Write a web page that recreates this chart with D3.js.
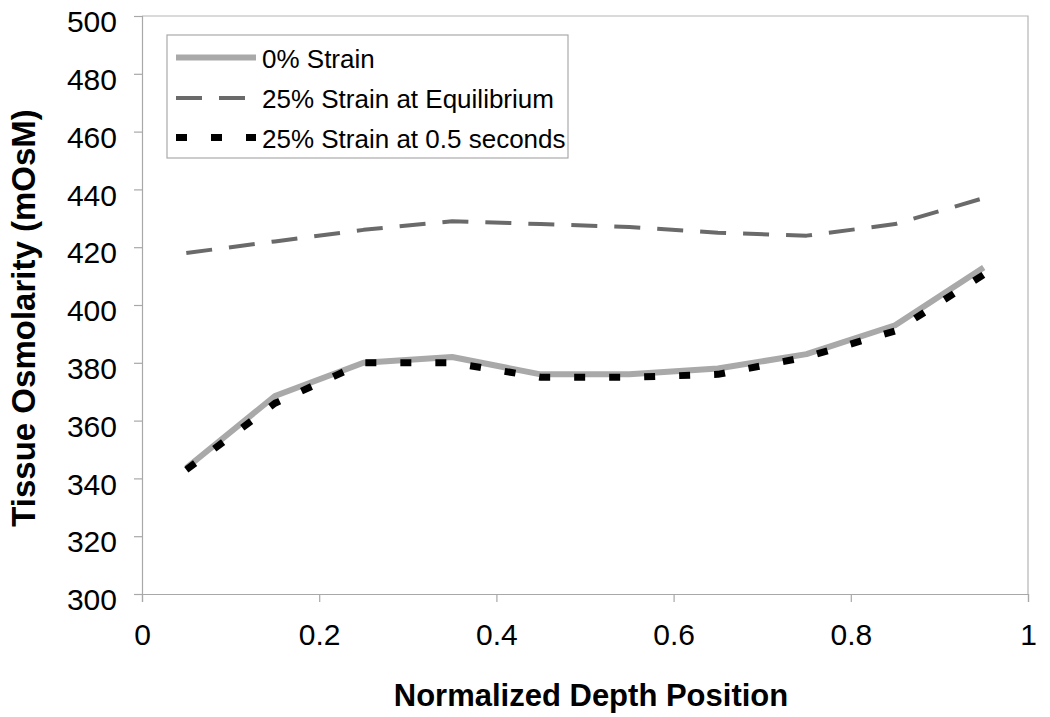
<!DOCTYPE html>
<html>
<head>
<meta charset="utf-8">
<script src="https://cdn.jsdelivr.net/npm/d3@7/dist/d3.min.js"></script>
<style>
  html, body { margin: 0; padding: 0; background: #fff; }
  svg { display: block; font-family: "Liberation Sans", Arial, sans-serif; }
</style>
</head>
<body>
<svg id="chart" width="1050" height="717"></svg>
<script>
const depth = [0.05, 0.15, 0.25, 0.35, 0.45, 0.55, 0.65, 0.75, 0.85, 0.95];
const strain0 = [343.6, 368.5, 380, 382, 376, 376, 378, 383, 393, 413];
const strain25Eq = [418, 422, 426, 429, 428, 427, 425, 424, 428, 437];
const strain25Fast = [343, 366, 380, 380, 375, 375, 376, 382, 391, 410.5];
const seriesNames = ["0% Strain", "25% Strain at Equilibrium", "25% Strain at 0.5 seconds"];
const xTicks = [0, 0.2, 0.4, 0.6, 0.8, 1];
const yTicks = [300, 320, 340, 360, 380, 400, 420, 440, 460, 480, 500];

(function () {
const svg = d3.select("#chart");
const pL = 142, pR = 1028, pT = 16, pB = 594;
const x = d3.scaleLinear().domain([0, 1]).range([pL, pR]);
const y = d3.scaleLinear().domain([300, 500]).range([pB, pT]);

// plot frame (top/right)
svg.append("path")
  .attr("d", `M${pL},${pT}H${pR}V${pB}`)
  .attr("fill", "none").attr("stroke", "#b5b5b5").attr("stroke-width", 1.2);

// y axis
const yAxis = svg.append("g").attr("transform", `translate(${pL},0)`)
  .call(d3.axisLeft(y).tickValues(yTicks).tickSize(8).tickPadding(17).tickFormat(d3.format("d")));
yAxis.select(".domain").attr("stroke", "#a8a8a8").attr("stroke-width", 1.2);
yAxis.selectAll(".tick line").attr("stroke", "#a8a8a8").attr("stroke-width", 1.2);
yAxis.selectAll(".tick text").attr("font-size", 30).attr("fill", "#000")
  .attr("font-family", "'Liberation Sans', Arial, sans-serif")
  .attr("dy", "0.52em");

// x axis
const xAxis = svg.append("g").attr("transform", `translate(0,${pB})`)
  .call(d3.axisBottom(x).tickValues(xTicks).tickSize(8).tickPadding(22).tickFormat(d => String(d)));
xAxis.select(".domain").attr("stroke", "#a8a8a8").attr("stroke-width", 1.2);
xAxis.selectAll(".tick line").attr("stroke", "#a8a8a8").attr("stroke-width", 1.2);
xAxis.selectAll(".tick text").attr("font-size", 30).attr("fill", "#000")
  .attr("font-family", "'Liberation Sans', Arial, sans-serif")
  .attr("dy", "0.71em");

// axis titles
svg.append("text")
  .attr("x", (pL + pR) / 2 + 6).attr("y", 706)
  .attr("text-anchor", "middle").attr("font-size", 31).attr("font-weight", "bold")
  .text("Normalized Depth Position");
svg.append("text")
  .attr("transform", `translate(35,318) rotate(-90)`)
  .attr("text-anchor", "middle").attr("font-size", 33).attr("font-weight", "bold")
  .text("Tissue Osmolarity (mOsM)");

const styles = [
  { color: "#a9a9a9", width: 6, dash: null },
  { color: "#6a6a6a", width: 4, dash: "26,17" },
  { color: "#000000", width: 7, dash: "11,24" }
];
const data = [strain0, strain25Eq, strain25Fast];

const line = d3.line().x((d, i) => x(depth[i])).y(d => y(d));
data.forEach((vals, k) => {
  const p = svg.append("path").datum(vals)
    .attr("d", line)
    .attr("fill", "none")
    .attr("stroke", styles[k].color)
    .attr("stroke-width", styles[k].width)
    .attr("stroke-linejoin", "round");
  if (styles[k].dash) p.attr("stroke-dasharray", styles[k].dash);
});

// legend
const lg = svg.append("g");
lg.append("rect").attr("x", 167).attr("y", 35).attr("width", 401).attr("height", 123)
  .attr("fill", "#fff").attr("stroke", "#aaaaaa").attr("stroke-width", 1.2);
const rowY = [57.5, 98, 137.5];
seriesNames.forEach((name, k) => {
  const l = lg.append("line").attr("x1", 176).attr("x2", 256)
    .attr("y1", rowY[k]).attr("y2", rowY[k])
    .attr("stroke", styles[k].color).attr("stroke-width", styles[k].width);
  if (styles[k].dash) l.attr("stroke-dasharray", styles[k].dash);
  lg.append("text").attr("x", 262).attr("y", rowY[k] + 10)
    .attr("font-size", 26).attr("fill", "#000").text(name);
});
})();
</script>
</body>
</html>
